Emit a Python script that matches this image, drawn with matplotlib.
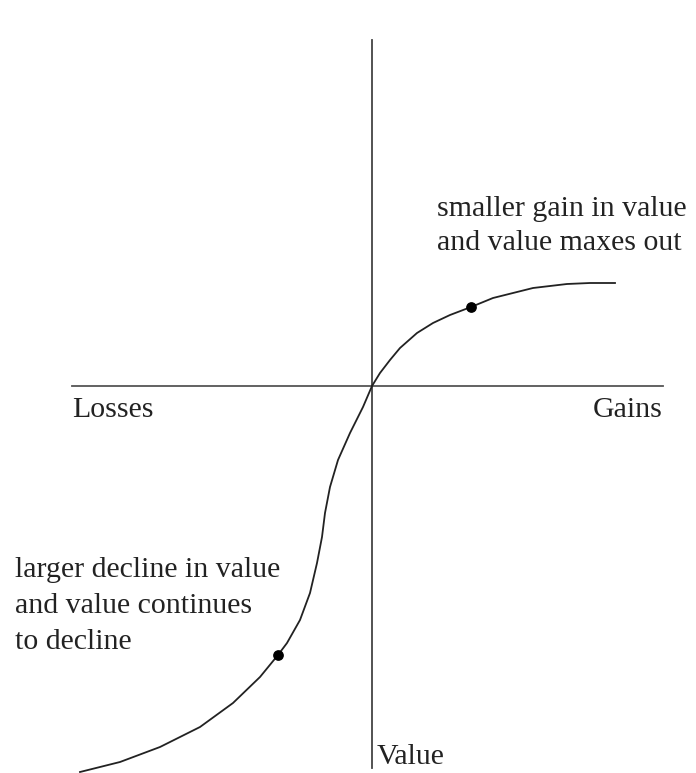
import matplotlib.pyplot as plt

# curve, origin = where the axes cross
gain_x = [0, 8, 18, 28, 45, 61, 78, 99, 121, 145, 161, 195, 218, 243]
gain_y = [0, 13, 26, 38, 53, 63, 71, 79, 88, 94, 98, 102, 103, 103]

loss_x = [0, -9, -22, -34, -42, -47, -50, -55, -62, -72, -85, -94, -112, -139, -172, -212, -252, -292]
loss_y = [0, -21, -47, -74, -101, -127, -151, -177, -207, -234, -257, -269, -291, -317, -341, -361, -376, -386]

dots_x = [99, -94]
dots_y = [79, -269]

gain_note = "smaller gain in value\nand value maxes out"
loss_note = "larger decline in value\nand value continues\nto decline"

fig = plt.figure(figsize=(6.96, 7.73), dpi=100)
ax = fig.add_axes([0, 0, 1, 1])
ax.set_xlim(-372, 324)
ax.set_ylim(-387, 386)
ax.axis("off")

# axes
ax.plot([-300, 291], [0, 0], color="#555555", lw=1.3)
ax.plot([0, 0], [-382, 346], color="#444444", lw=1.3)

ax.plot(gain_x, gain_y, color="#222222", lw=1.3, solid_joinstyle="round")
ax.plot(loss_x, loss_y, color="#222222", lw=1.3, solid_joinstyle="round")
ax.scatter(dots_x, dots_y, s=45, color="black", zorder=3)

font = dict(family="Liberation Serif", size=21.5, color="#222222")
ax.text(-300, -24, "Losses", ha="left", va="center", **font)
ax.text(291, -24, "Gains", ha="right", va="center", **font)
ax.text(5, -371, "Value", ha="left", va="center", **font)
ax.text(65, 160, gain_note, ha="left", va="center", linespacing=1.38, **font)
ax.text(-357, -220, loss_note, ha="left", va="center", linespacing=1.52, **font)

fig.savefig("out.png", dpi=100)
